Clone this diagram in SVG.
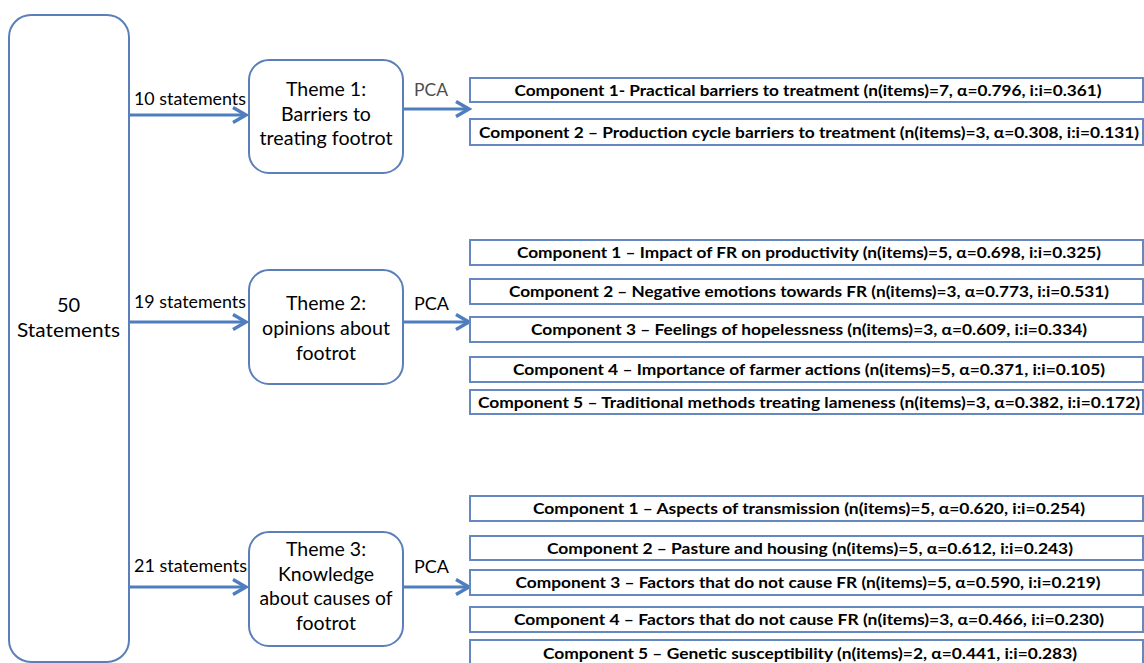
<svg xmlns="http://www.w3.org/2000/svg" width="1144" height="663" viewBox="0 0 1144 663">
<defs>
<style>
.box{fill:#fff;stroke:#5b7fb8;stroke-width:2}
.comp{fill:#fff;stroke:#6688c0;stroke-width:2}
.t{font-family:Lato,"Liberation Sans",sans-serif;fill:#000}
.theme{font-size:19.5px;text-anchor:middle}
.lbl{font-size:17px}
.ct{font-size:15.5px;font-weight:bold;text-anchor:middle}
.conn{stroke:#4f7ebf;stroke-width:3;fill:none}
</style>
<marker id="ah" viewBox="0 0 18 18" refX="15" refY="9" markerWidth="18" markerHeight="18" markerUnits="userSpaceOnUse" orient="auto">
<path d="M2,1.5 L15,9 L2,16.5" fill="none" stroke="#4f7ebf" stroke-width="3.4"/>
</marker>
</defs>
<rect width="1144" height="663" fill="#fff"/>

<g id="connectors">
<line class="conn" x1="129" y1="115" x2="246" y2="115" marker-end="url(#ah)"/>
<line class="conn" x1="129" y1="322" x2="246" y2="322" marker-end="url(#ah)"/>
<line class="conn" x1="129" y1="587" x2="246" y2="587" marker-end="url(#ah)"/>
<line class="conn" x1="403" y1="109" x2="469" y2="109" marker-end="url(#ah)"/>
<line class="conn" x1="403" y1="322" x2="469" y2="322" marker-end="url(#ah)"/>
<line class="conn" x1="403" y1="587" x2="469" y2="587" marker-end="url(#ah)"/>
<text class="t lbl" x="134" y="105" textLength="112" lengthAdjust="spacingAndGlyphs">10 statements</text>
<text class="t lbl" x="134" y="308" textLength="112" lengthAdjust="spacingAndGlyphs">19 statements</text>
<text class="t lbl" x="134" y="572" textLength="113" lengthAdjust="spacingAndGlyphs">21 statements</text>
<text class="t lbl" x="414" y="96" style="fill:#4d4d4d" textLength="34" lengthAdjust="spacingAndGlyphs">PCA</text>
<text class="t lbl" x="414" y="310" textLength="35" lengthAdjust="spacingAndGlyphs">PCA</text>
<text class="t lbl" x="414" y="573" textLength="35" lengthAdjust="spacingAndGlyphs">PCA</text>
</g>

<g id="statements">
<rect class="box" x="9" y="15" width="120" height="647" rx="22"/>
<text class="t theme" x="68.5" y="312" style="font-size:20px">50</text>
<text class="t theme" x="68.5" y="337" style="font-size:20px" textLength="103" lengthAdjust="spacingAndGlyphs">Statements</text>
</g>

<g id="theme1">
<rect class="box" x="249" y="60" width="154" height="113" rx="20"/>
<text class="t theme" x="326" y="96">Theme 1:</text>
<text class="t theme" x="326" y="121">Barriers to</text>
<text class="t theme" x="326" y="145" textLength="133" lengthAdjust="spacingAndGlyphs">treating footrot</text>
</g>

<g id="theme2">
<rect class="box" x="249" y="270" width="154" height="114" rx="20"/>
<text class="t theme" x="326" y="310">Theme 2:</text>
<text class="t theme" x="326" y="335" textLength="128" lengthAdjust="spacingAndGlyphs">opinions about</text>
<text class="t theme" x="326" y="360">footrot</text>
</g>

<g id="theme3">
<rect class="box" x="249" y="532" width="154" height="114" rx="20"/>
<text class="t theme" x="326" y="556">Theme 3:</text>
<text class="t theme" x="326" y="581">Knowledge</text>
<text class="t theme" x="326" y="605" textLength="133" lengthAdjust="spacingAndGlyphs">about causes of</text>
<text class="t theme" x="326" y="630">footrot</text>
</g>

<g id="t1c1"><rect class="comp" x="470" y="78" width="673" height="24"/>
<text class="t ct" x="808" y="96" textLength="587" lengthAdjust="spacingAndGlyphs">Component 1- Practical barriers to treatment (n(items)=7, α=0.796, i:i=0.361)</text></g>
<g id="t1c2"><rect class="comp" x="470" y="119" width="673" height="26"/>
<text class="t ct" x="809" y="138" textLength="660" lengthAdjust="spacingAndGlyphs">Component 2 – Production cycle barriers to treatment (n(items)=3, α=0.308, i:i=0.131)</text></g>

<g id="t2c1"><rect class="comp" x="470" y="240" width="673" height="25"/>
<text class="t ct" x="809" y="258" textLength="584" lengthAdjust="spacingAndGlyphs">Component 1 – Impact of FR on productivity (n(items)=5, α=0.698, i:i=0.325)</text></g>
<g id="t2c2"><rect class="comp" x="470" y="279" width="673" height="25"/>
<text class="t ct" x="809" y="297" textLength="600" lengthAdjust="spacingAndGlyphs">Component 2 – Negative emotions towards FR (n(items)=3, α=0.773, i:i=0.531)</text></g>
<g id="t2c3"><rect class="comp" x="470" y="317" width="673" height="25"/>
<text class="t ct" x="809" y="335" textLength="556" lengthAdjust="spacingAndGlyphs">Component 3 – Feelings of hopelessness (n(items)=3, α=0.609, i:i=0.334)</text></g>
<g id="t2c4"><rect class="comp" x="470" y="357" width="673" height="25"/>
<text class="t ct" x="809" y="375" textLength="592" lengthAdjust="spacingAndGlyphs">Component 4 – Importance of farmer actions (n(items)=5, α=0.371, i:i=0.105)</text></g>
<g id="t2c5"><rect class="comp" x="470" y="390" width="673" height="24"/>
<text class="t ct" x="809" y="408" textLength="662" lengthAdjust="spacingAndGlyphs">Component 5 – Traditional methods treating lameness (n(items)=3, α=0.382, i:i=0.172)</text></g>

<g id="t3c1"><rect class="comp" x="470" y="496" width="673" height="25"/>
<text class="t ct" x="809" y="514" textLength="552" lengthAdjust="spacingAndGlyphs">Component 1 – Aspects of transmission (n(items)=5, α=0.620, i:i=0.254)</text></g>
<g id="t3c2"><rect class="comp" x="470" y="536" width="673" height="24"/>
<text class="t ct" x="810" y="554" textLength="526" lengthAdjust="spacingAndGlyphs">Component 2 – Pasture and housing (n(items)=5, α=0.612, i:i=0.243)</text></g>
<g id="t3c3"><rect class="comp" x="470" y="570" width="673" height="25"/>
<text class="t ct" x="808" y="588" textLength="585" lengthAdjust="spacingAndGlyphs">Component 3 – Factors that do not cause FR (n(items)=5, α=0.590, i:i=0.219)</text></g>
<g id="t3c4"><rect class="comp" x="470" y="607" width="673" height="25"/>
<text class="t ct" x="809" y="625" textLength="590" lengthAdjust="spacingAndGlyphs">Component 4 – Factors that do not cause FR (n(items)=3, α=0.466, i:i=0.230)</text></g>
<g id="t3c5"><rect class="comp" x="470" y="640" width="673" height="30"/>
<text class="t ct" x="810" y="659" textLength="534" lengthAdjust="spacingAndGlyphs">Component 5 – Genetic susceptibility (n(items)=2, α=0.441, i:i=0.283)</text></g>
</svg>
